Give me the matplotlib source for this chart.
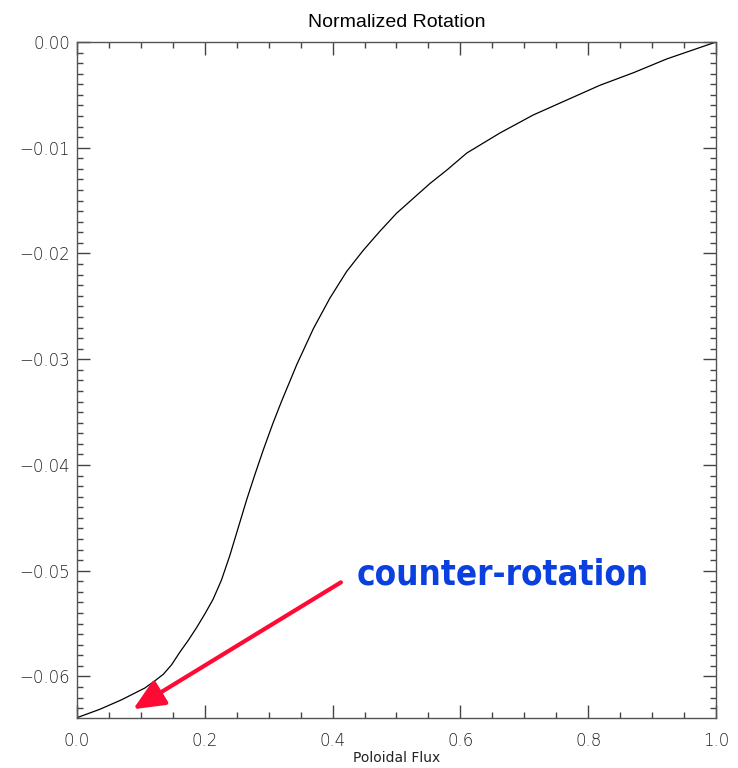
import numpy as np
import matplotlib.pyplot as plt
from matplotlib.ticker import MultipleLocator, FixedLocator

# values
flux = [0.0, 0.036, 0.07, 0.106, 0.12, 0.135, 0.148, 0.161, 0.174, 0.187,
        0.2, 0.213, 0.226, 0.239, 0.252, 0.266, 0.279, 0.292, 0.307, 0.320,
        0.344, 0.370, 0.396, 0.422, 0.448, 0.474, 0.500, 0.526, 0.552, 0.579,
        0.610, 0.662, 0.714, 0.766, 0.818, 0.871, 0.923, 1.0]
rotation = [-0.0639, -0.0631, -0.0622, -0.0611, -0.0605, -0.0598, -0.0589, -0.0577,
            -0.0566, -0.0554, -0.0541, -0.0527, -0.0509, -0.0486, -0.0460, -0.0432,
            -0.0408, -0.0385, -0.0360, -0.0340, -0.0305, -0.0271, -0.0242, -0.0217,
            -0.0197, -0.0179, -0.0162, -0.0148, -0.0134, -0.0121, -0.0105, -0.0086,
            -0.0069, -0.0055, -0.0041, -0.0029, -0.0016, 0.0]

xticks = [0.0, 0.2, 0.4, 0.6, 0.8, 1.0]
xtick_labels = ['0.0', '0.2', '0.4', '0.6', '0.8', '1.0']
yticks = [0.0, -0.01, -0.02, -0.03, -0.04, -0.05, -0.06]
ytick_labels = ['0.00', '\u22120.01', '\u22120.02', '\u22120.03', '\u22120.04', '\u22120.05', '\u22120.06']

arrow_tail = (0.413, -0.0511)
arrow_tip = (0.088, -0.0631)
note = 'counter-rotation'

fig = plt.figure(figsize=(7.38, 7.68), dpi=100)
ax = fig.add_axes([0.1043, 0.0655, 0.8659, 0.8798])

ax.plot(flux, rotation, color='black', lw=0.9)

ax.set_xlim(0, 1.0)
ax.set_ylim(-0.0639, 0.0)

ax.xaxis.set_major_locator(FixedLocator(xticks))
ax.set_xticklabels(xtick_labels)
ax.xaxis.set_minor_locator(MultipleLocator(0.05))
ax.yaxis.set_major_locator(FixedLocator(yticks))
ax.set_yticklabels(ytick_labels)
ax.yaxis.set_minor_locator(MultipleLocator(0.001))

ax.tick_params(which='both', direction='in', top=True, right=True, color='#444444', width=1.0)
ax.tick_params(which='major', length=9.4)
ax.tick_params(which='minor', length=4.5)
ax.tick_params(axis='x', which='major', pad=10, labelsize=12, labelcolor='#222222')
ax.tick_params(axis='y', which='major', pad=5, labelsize=12, labelcolor='#222222')
for lab in ax.get_xticklabels() + ax.get_yticklabels():
    lab.set_fontweight('light')
for s in ax.spines.values():
    s.set_color('#555555')
    s.set_linewidth(1.0)

ax.set_title('Normalized Rotation', fontsize=14, family='Liberation Sans', pad=11)
ax.set_xlabel('Poloidal Flux', fontsize=10, color='#222222', labelpad=1)

ax.annotate('', xy=arrow_tip, xytext=arrow_tail,
            arrowprops=dict(arrowstyle='-|>,head_length=1.9,head_width=0.85',
                            color='#FF0A35', lw=3, shrinkA=0, shrinkB=0))
ax.text(0.437, -0.0513, note, fontsize=25, fontweight='bold', color='#0A3FE0',
        family='DejaVu Sans', fontstretch='condensed', ha='left', va='baseline')

fig.savefig('out.png', dpi=100)
